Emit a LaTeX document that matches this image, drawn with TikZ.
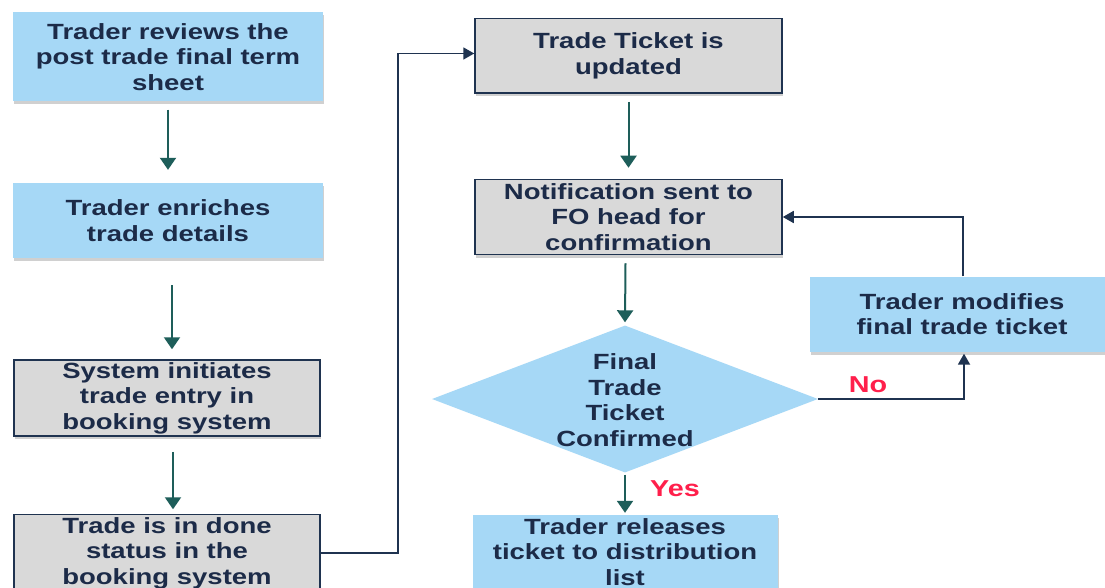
\documentclass[tikz,border=0pt]{standalone}
\usepackage{fontspec}
\setmainfont{Liberation Sans}[FakeStretch=1.25]
\usetikzlibrary{arrows.meta,shapes.geometric,shadows}

\definecolor{boxblue}{HTML}{A6D8F6}
\definecolor{boxgray}{HTML}{D9D9D9}
\definecolor{edgenavy}{HTML}{1F3350}
\definecolor{inknavy}{HTML}{1C2B48}
\definecolor{flowteal}{HTML}{1E5E5A}
\definecolor{labelred}{HTML}{FF1F4B}

\begin{document}
\begin{tikzpicture}[x=1pt,y=-1pt,
  every node/.style={font=\fontsize{22}{25.5}\selectfont\bfseries,
    text=inknavy, align=center, inner sep=0pt},
  softshadow/.style={drop shadow={shadow xshift=1pt, shadow yshift=-3pt,
    opacity=.3, fill=black!60}},
  bluebox/.style={fill=boxblue, minimum width=310, minimum height=75, softshadow},
  graybox/.style={fill=boxgray, draw=edgenavy, line width=1.5pt,
    minimum width=306, minimum height=76, softshadow},
  decision/.style={diamond, fill=boxblue, minimum width=386, minimum height=147,
    inner sep=0pt},
  tealarrow/.style={draw=flowteal, line width=2pt,
    -{Triangle[width=16pt,length=12pt]}},
  navyarrow/.style={draw=edgenavy, line width=1.8pt,
    -{Triangle[width=12pt,length=11pt]}},
  answer/.style={text=labelred, font=\fontsize{23}{26}\selectfont\bfseries}
]
\clip (0,0) rectangle (1105,588);
\fill[white] (0,0) rectangle (1105,588);

% left column
\node[bluebox, minimum height=89] (review) at (168,57)
  {Trader reviews the\\post trade final term\\sheet};
\node[bluebox] (enrich) at (168,220.5) {Trader enriches\\trade details};
\node[graybox] (initiate) at (167,398)
  {System initiates\\trade entry in\\booking system};
\node[graybox, minimum height=77] (done) at (167,553)
  {Trade is in done\\status in the\\booking system};

% middle column
\node[graybox, minimum width=307, minimum height=74.5] (ticket) at (628.5,56)
  {Trade Ticket is\\updated};
\node[graybox, minimum width=307, minimum height=75] (notify) at (628.5,217)
  {Notification sent to\\FO head for\\confirmation};
\node[decision] (confirm) at (625,399) {};
\node (confirmtext) at (625,400) {Final\\Trade\\Ticket\\Confirmed};
\node[bluebox, minimum width=305, minimum height=74] (release) at (625,552)
  {Trader releases\\ticket to distribution\\list};

% right column
\node[bluebox, minimum width=304] (modify) at (962,314)
  {Trader modifies\\final trade ticket};

% answer labels
\node[answer] (yes) at (675,489) {Yes};
\node[answer] (no) at (868,385) {No};

% connectors
\draw[tealarrow] ([yshift=-8pt]review.south) -- ([yshift=13pt]enrich.north);
\draw[tealarrow] ([xshift=4pt,yshift=-27pt]enrich.south)
  -- ([xshift=5pt,yshift=10pt]initiate.north);
\draw[tealarrow] ([xshift=6pt,yshift=-15pt]initiate.south)
  -- ([xshift=6pt,yshift=4.5pt]done.north);
\draw[navyarrow] (done.east) -- ++(77,0) |- ([yshift=2.5pt]ticket.west);
\draw[tealarrow] ([yshift=-8pt]ticket.south) -- ([yshift=11pt]notify.north);
\draw[tealarrow] ([xshift=-3pt,yshift=-8pt]notify.south)
  -- ([yshift=3pt]confirm.north);
\draw[tealarrow] ([yshift=-2pt]confirm.south) -- ([yshift=2pt]release.north);
\draw[navyarrow] (confirm.east) -| ([xshift=2pt,yshift=-2pt]modify.south);
\draw[navyarrow] ([xshift=1pt]modify.north) |- (notify.east);
\end{tikzpicture}
\end{document}
